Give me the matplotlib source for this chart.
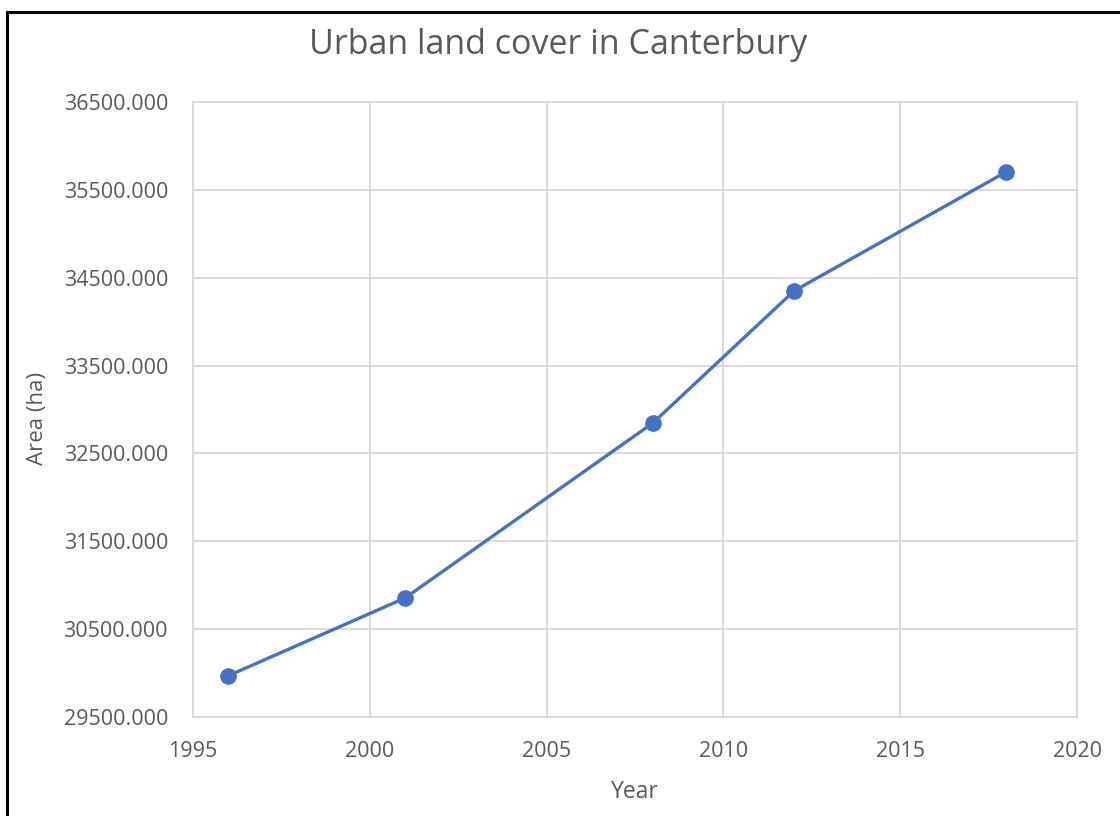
import matplotlib.pyplot as plt
from matplotlib.lines import Line2D
from matplotlib.ticker import FormatStrFormatter

# Datos
years = [1996, 2001, 2008, 2012, 2018]
area = [29970, 30855, 32845, 34350, 35705]

x_ticks = [1995, 2000, 2005, 2010, 2015, 2020]
y_ticks = [29500, 30500, 31500, 32500, 33500, 34500, 35500, 36500]

grey_text = "#595959"
grid_col = "#D9D9D9"
line_col = "#4472C4"

plt.rcParams["font.family"] = ["Open Sans", "DejaVu Sans"]

fig = plt.figure(figsize=(11.2, 8.16), dpi=100)
ax = fig.add_axes([193 / 1120, 1 - 717 / 816, (1077 - 193) / 1120, (717 - 102) / 816])

ax.plot(years, area, color=line_col, linewidth=2.4, marker="o", markersize=11)

ax.set_xlim(1995, 2020)
ax.set_ylim(29500, 36500)
ax.set_xticks(x_ticks)
ax.set_yticks(y_ticks)
ax.yaxis.set_major_formatter(FormatStrFormatter("%.3f"))
ax.grid(True, color=grid_col, linewidth=1.3)
ax.set_axisbelow(True)
for s in ax.spines.values():
    s.set_color(grid_col)
    s.set_linewidth(1.3)
ax.tick_params(length=0, labelsize=15.5, labelcolor=grey_text)
ax.tick_params(axis="y", pad=18)
ax.tick_params(axis="x", pad=17)

fig.text(635 / 1120, 1 - 792 / 816, "Year", ha="center", va="center",
         fontsize=16.5, color=grey_text)
fig.text(38 / 1120, 1 - 418 / 816, "Area (ha)", ha="center", va="center",
         rotation=90, fontsize=16, color=grey_text)
fig.text(558 / 1120, 1 - 45 / 816, "Urban land cover in Canterbury",
         ha="center", va="center", fontsize=24.5, color=grey_text)

# Marco negro alrededor de la imagen
fig.add_artist(Line2D([7 / 1120, 7 / 1120], [0, 1 - 12 / 816], color="black", linewidth=2.2))
fig.add_artist(Line2D([7 / 1120, 1], [1 - 12 / 816, 1 - 12 / 816], color="black", linewidth=2.2))

fig.savefig("out.png", dpi=100)
